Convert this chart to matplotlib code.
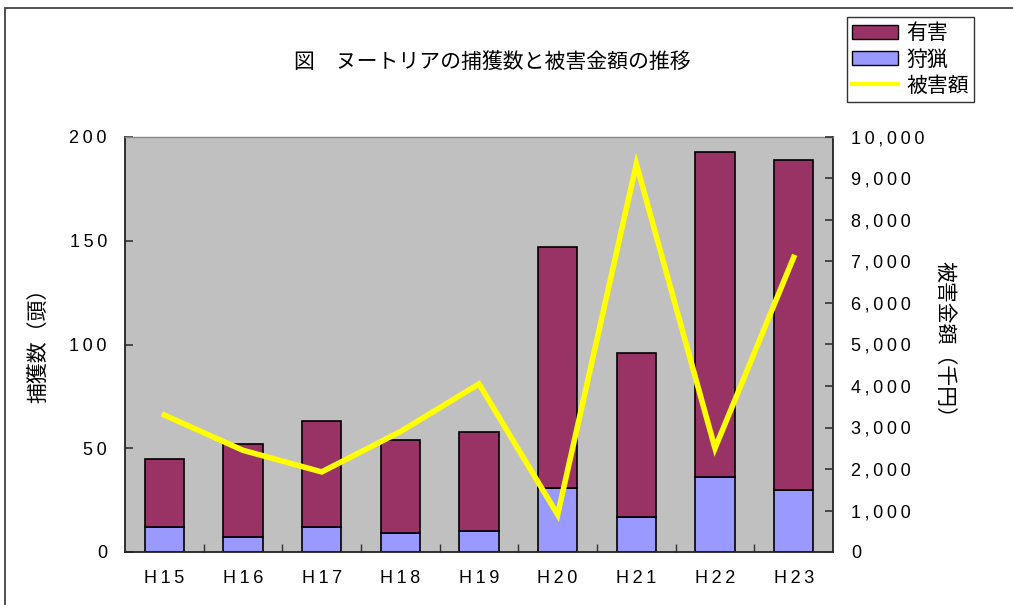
import numpy as np
import matplotlib
matplotlib.use('Agg')
import matplotlib.pyplot as plt
from matplotlib.patches import Patch, Rectangle
from matplotlib.lines import Line2D
from matplotlib.ticker import FuncFormatter

plt.rcParams['font.family'] = ['Noto Sans CJK JP', 'DejaVu Sans']

# data
years = ['H15', 'H16', 'H17', 'H18', 'H19', 'H20', 'H21', 'H22', 'H23']
hunting = [12, 7, 12, 9, 10, 31, 17, 36, 30]          # 狩猟
nuisance = [33, 45, 51, 45, 48, 116, 79, 157, 159]    # 有害
damage = [3300, 2450, 1930, 2900, 4050, 900, 9350, 2500, 7100]  # 被害額 (千円)

C_NUIS = '#993366'
C_HUNT = '#9999FF'
C_LINE = '#FFFF00'
BG = '#C0C0C0'


def spaced(s):
    # Excel-ish wide letter spacing
    return '\u2009'.join(s)


tick_font = dict(family=['Liberation Sans', 'DejaVu Sans'], size=13)

fig = plt.figure(figsize=(10.13, 6.05), dpi=100)
fig.patch.set_facecolor('white')

# page frame (top & left edges visible)
fig.patches.append(Rectangle((5 / 1013, -0.1), 1.2, (605 - 8) / 605 + 0.1,
                             transform=fig.transFigure, fill=False,
                             edgecolor='#333333', linewidth=1.2))

ax = fig.add_axes([125 / 1013, 53 / 605, 708 / 1013, 415 / 605])
ax.set_facecolor(BG)

x = np.arange(len(years))
ax.bar(x, hunting, width=0.5, color=C_HUNT, edgecolor='black', linewidth=1.2, zorder=2)
ax.bar(x, nuisance, width=0.5, bottom=hunting, color=C_NUIS, edgecolor='black',
       linewidth=1.2, zorder=2)

ax.set_xlim(-0.5, len(years) - 0.5)
ax.set_ylim(0, 200)
ax.set_yticks(np.arange(0, 201, 50))
ax.set_yticklabels([spaced(str(v)) for v in range(0, 201, 50)], **tick_font)
ax.set_xticks(x)
ax.set_xticklabels([spaced(y) for y in years], **tick_font)
ax.set_xticks(x[:-1] + 0.5, minor=True)
ax.tick_params(axis='x', which='major', length=0, pad=13)
ax.tick_params(axis='x', which='minor', direction='in', length=6, width=1, color='#333333')
ax.tick_params(axis='y', direction='in', length=6, width=1.2, color='#333333', pad=13)

for side in ['left', 'bottom', 'right']:
    ax.spines[side].set_color('#222222')
    ax.spines[side].set_linewidth(1.3)
ax.spines['top'].set_color('#888888')
ax.spines['top'].set_linewidth(1.0)

ax.set_ylabel('捕獲数（頭）', fontsize=15, va='center')
ax.yaxis.set_label_coords(-0.122, 0.51)

ax2 = ax.twinx()
ax2.plot(x, damage, color=C_LINE, linewidth=4, zorder=3, solid_joinstyle='miter')
ax2.set_ylim(0, 10000)
ax2.set_yticks(np.arange(0, 10001, 1000))
ax2.yaxis.set_major_formatter(FuncFormatter(lambda v, p: spaced(f'{int(v):,}')))
for lbl in ax2.get_yticklabels():
    lbl.set_fontfamily(tick_font['family'])
    lbl.set_fontsize(tick_font['size'])
ax2.tick_params(axis='y', direction='in', length=6, width=1.2, color='#333333', pad=13)
ax2.set_ylabel('被害金額（千円）', fontsize=15, rotation=-90, va='center')
ax2.yaxis.set_label_coords(1.158, 0.5)
for side in ax2.spines:
    ax2.spines[side].set_visible(False)

fig.text(492 / 1013, 1 - 62 / 605, '図　ヌートリアの捕獲数と被害金額の推移',
         ha='center', va='center', fontsize=15)

handles = [
    Patch(facecolor=C_NUIS, edgecolor='black', linewidth=1.0, label='有害'),
    Patch(facecolor=C_HUNT, edgecolor='black', linewidth=1.0, label='狩猟'),
    Line2D([], [], color=C_LINE, linewidth=3, label='被害額'),
]
leg = fig.legend(handles=handles, loc='upper left',
                 bbox_to_anchor=(847 / 1013, 1 - 17 / 605),
                 fontsize=15, frameon=True, fancybox=False, edgecolor='black',
                 handlelength=2.2, handleheight=0.7, handletextpad=0.4,
                 labelspacing=0.2, borderpad=0.25, borderaxespad=0)
leg.get_frame().set_linewidth(1.0)

fig.savefig('out.png', dpi=100)
